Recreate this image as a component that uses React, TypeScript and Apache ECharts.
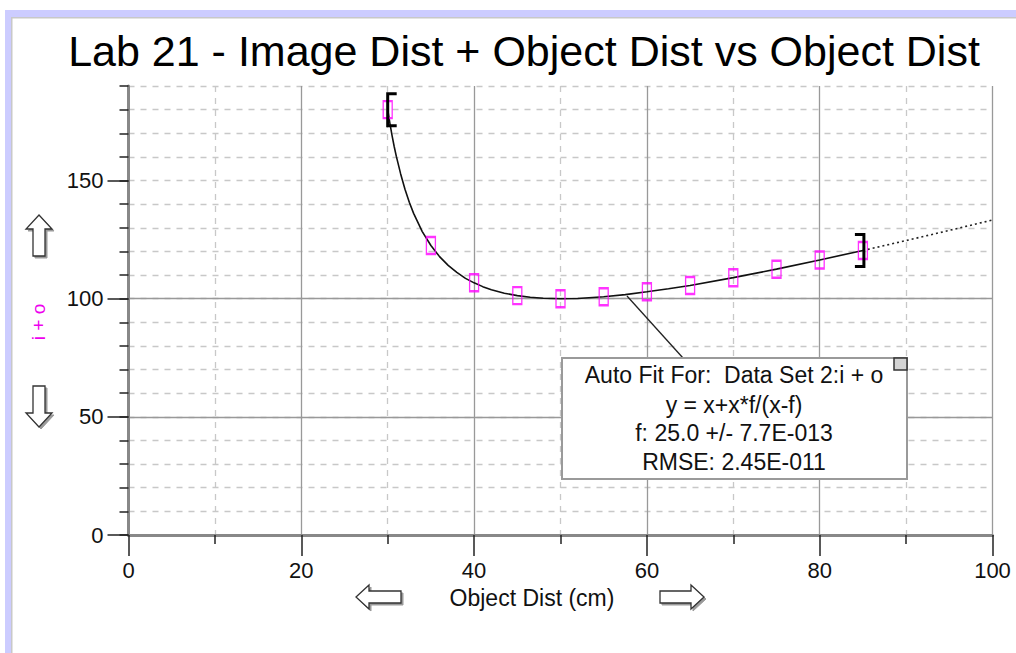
import React, { useEffect, useRef } from "react";
import * as echarts from "echarts";

// ---- data ----
const pointX = [30, 35, 40, 45, 50, 55, 60, 65, 70, 75, 80, 85];
const pointY = [180, 122.5, 106.7, 101.3, 100, 100.8, 102.9, 105.6, 108.9, 112.5, 116.4, 120.4];

const fitX = [30, 30.25, 30.5, 30.75, 31, 31.5, 32, 32.5, 33, 34, 35, 36, 37, 38, 39, 40, 41, 42, 43.5, 45, 46.5, 48, 50, 52, 55, 57.5, 60, 62.5, 65, 70, 75, 80, 85];
const fitY = [180, 174.3, 169.1, 164.4, 160.2, 152.8, 146.3, 140.8, 136.1, 128.4, 122.5, 117.8, 114.1, 111.1, 108.6, 106.7, 105.1, 103.8, 102.3, 101.3, 100.6, 100.2, 100, 100.1, 100.8, 101.7, 102.9, 104.2, 105.6, 108.9, 112.5, 116.4, 120.4];

const extX = [85, 90, 95, 100];
const extY = [120.4, 124.6, 128.9, 133.3];

// fit range brackets: [x, y, direction]
const bracketX = [30, 85];
const bracketY = [180, 120.4];
const bracketDir = [1, -1];

const yMajorTicks = [0, 50, 100, 150];

const titleText = "Lab 21 - Image Dist + Object Dist vs Object Dist";
const xName = "Object Dist (cm)";
const yName = "i + o";
const fitLines = [
  "Auto Fit For:  Data Set 2:i + o",
  "y = x+x*f/(x-f)",
  "f: 25.0 +/- 7.7E-013",
  "RMSE: 2.45E-011",
];

const FONT = "'Liberation Sans', Arial, sans-serif";

function arrow(points: number[][]) {
  return [
    {
      type: "polygon",
      shape: { points: points.map((p) => [p[0] + 2, p[1] + 2]) },
      style: { fill: "#9a9a9a", stroke: "#9a9a9a", lineWidth: 1 },
      silent: true,
    },
    {
      type: "polygon",
      shape: { points },
      style: { fill: "#ffffff", stroke: "#333333", lineWidth: 1.3 },
      silent: true,
    },
  ];
}

export default function App() {
  const ref = useRef<HTMLDivElement>(null);

  useEffect(() => {
    if (!ref.current) return;
    const chart = echarts.init(ref.current, undefined, { renderer: "svg" });

    const upArrow = [
      [39, 215], [52, 229], [45, 229], [45, 256], [33, 256], [33, 229], [26, 229],
    ];
    const downArrow = [
      [33, 386], [45, 386], [45, 413], [52, 413], [39, 427], [26, 413], [33, 413],
    ];
    const leftArrow = [
      [356, 597], [369, 585], [369, 591], [401, 591], [401, 603], [369, 603], [369, 609],
    ];
    const rightArrow = [
      [704, 597], [691, 585], [691, 591], [660, 591], [660, 603], [691, 603], [691, 609],
    ];

    const graphics: any[] = [
      // frame
      { type: "rect", shape: { x: 5, y: 10, width: 1011, height: 7 }, style: { fill: "#ccccff" }, silent: true },
      { type: "rect", shape: { x: 5, y: 10, width: 6, height: 643 }, style: { fill: "#ccccff" }, silent: true },
      { type: "rect", shape: { x: 11, y: 17, width: 1005, height: 1.5 }, style: { fill: "#c8c8c8" }, silent: true },
      { type: "rect", shape: { x: 11, y: 17, width: 1.5, height: 636 }, style: { fill: "#c8c8c8" }, silent: true },
      ...arrow(upArrow),
      ...arrow(downArrow),
      ...arrow(leftArrow),
      ...arrow(rightArrow),
      {
        type: "text",
        x: 532,
        y: 598,
        style: { text: xName, font: `23px ${FONT}`, fill: "#111", align: "center", verticalAlign: "middle" },
        silent: true,
      },
      {
        type: "text",
        x: 38,
        y: 322,
        rotation: Math.PI / 2,
        style: { text: yName, font: `19px ${FONT}`, fill: "#ee00ee", align: "center", verticalAlign: "middle" },
        silent: true,
      },
      // connector from curve to fit box
      {
        type: "line",
        shape: { x1: 627, y1: 296, x2: 683, y2: 358 },
        style: { stroke: "#222", lineWidth: 1.3 },
        z: 10,
        silent: true,
      },
      {
        type: "rect",
        shape: { x: 562, y: 358, width: 345, height: 121 },
        style: { fill: "#ffffff", stroke: "#9a9a9a", lineWidth: 2 },
        z: 11,
        silent: true,
      },
      {
        type: "rect",
        shape: { x: 894, y: 358, width: 13, height: 12 },
        style: { fill: "#d4d4d4", stroke: "#333", lineWidth: 1.5 },
        z: 12,
        silent: true,
      },
      ...fitLines.map((t, i) => ({
        type: "text",
        x: 734,
        y: [375, 405, 433, 462][i],
        z: 12,
        style: { text: t, font: `23px ${FONT}`, fill: "#111", align: "center", verticalAlign: "middle" },
        silent: true,
      })),
    ];

    chart.setOption({
      animation: false,
      backgroundColor: "#ffffff",
      title: {
        text: titleText,
        left: 519,
        textAlign: "center",
        top: 24,
        textStyle: { fontFamily: FONT, fontSize: 43, fontWeight: "normal", color: "#000" },
      },
      grid: { left: 128.5, right: 23.5, top: 86, bottom: 118, outerBoundsMode: "none", containLabel: false },
      xAxis: {
        type: "value",
        min: 0,
        max: 100,
        interval: 20,
        axisLine: { show: true, onZero: false, lineStyle: { color: "#888", width: 3 } },
        axisTick: { show: true, length: 21, lineStyle: { color: "#222", width: 1.5 } },
        minorTick: { show: true, splitNumber: 2, length: 9, lineStyle: { color: "#222", width: 1.5 } },
        axisLabel: { margin: 24, fontFamily: FONT, fontSize: 22, color: "#111" },
        splitLine: { show: true, showMinLine: false, lineStyle: { color: "#999", width: 1.3 } },
        minorSplitLine: { show: true, lineStyle: { color: "#c8c8c8", width: 1.3, type: [6, 6] } },
      },
      yAxis: [
        {
          type: "value",
          position: "left",
          offset: 0,
          min: 0,
          max: 190,
          interval: 10,
          axisLine: { show: true, onZero: false, lineStyle: { color: "#888", width: 3 } },
          axisTick: { show: true, length: 9, lineStyle: { color: "#222", width: 1.5 } },
          axisLabel: { show: false },
          splitLine: { show: true, showMinLine: false, lineStyle: { color: "#c8c8c8", width: 1.3, type: [6, 6] } },
        },
        {
          type: "value",
          position: "left",
          offset: 0,
          min: 0,
          max: 190,
          interval: 50,
          axisLine: { show: false, onZero: false },
          axisTick: { show: true, length: 21, customValues: yMajorTicks, lineStyle: { color: "#222", width: 1.5 } },
          axisLabel: { margin: 25, customValues: yMajorTicks, fontFamily: FONT, fontSize: 22, color: "#111" },
          splitLine: { show: true, showMinLine: false, showMaxLine: false, lineStyle: { color: "#999", width: 1.3 } },
        },
      ],
      series: [
        {
          type: "line",
          yAxisIndex: 0,
          data: fitX.map((x, i) => [x, fitY[i]]),
          smooth: false,
          showSymbol: false,
          lineStyle: { color: "#111", width: 1.6 },
          z: 3,
          silent: true,
        },
        {
          type: "line",
          yAxisIndex: 0,
          data: extX.map((x, i) => [x, extY[i]]),
          showSymbol: false,
          lineStyle: { color: "#222", width: 1.6, type: [2, 3] },
          z: 3,
          silent: true,
        },
        {
          type: "scatter",
          yAxisIndex: 0,
          data: pointX.map((x, i) => [x, pointY[i]]),
          symbol: "rect",
          symbolSize: [9, 17],
          itemStyle: { color: "rgba(0,0,0,0)", borderColor: "#ff00ff", borderWidth: 1.8 },
          z: 4,
          silent: true,
        },
        {
          type: "custom",
          yAxisIndex: 0,
          data: bracketX.map((x, i) => [x, bracketY[i], bracketDir[i]]),
          renderItem: (params: any, api: any) => {
            const p = api.coord([api.value(0), api.value(1)]);
            const d = api.value(2);
            const h = 16;
            const w = 9;
            const x0 = p[0] + (d < 0 ? 1 : 0);
            return {
              type: "polyline",
              shape: {
                points: [
                  [x0 + d * w, p[1] - h],
                  [x0, p[1] - h],
                  [x0, p[1] + h],
                  [x0 + d * w, p[1] + h],
                ],
              },
              style: { stroke: "#000", lineWidth: 3, fill: "none" },
            };
          },
          z: 5,
          silent: true,
        },
      ],
      graphic: graphics,
    });

    return () => {
      chart.dispose();
    };
  }, []);

  return (
    <div
      ref={ref}
      style={{ position: "fixed", left: 0, top: 0, width: 1016, height: 653, background: "#fff" }}
    />
  );
}
